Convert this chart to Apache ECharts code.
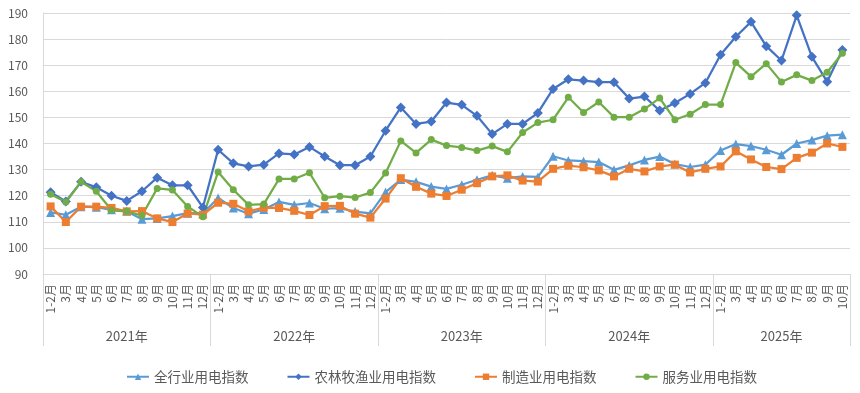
<!DOCTYPE html>
<html><head><meta charset="utf-8">
<script src="https://cdn.jsdelivr.net/npm/echarts@6/dist/echarts.min.js"></script>
<style>html,body{margin:0;padding:0;background:#fff}#c{width:860px;height:393px}</style>
</head><body><div id="c"></div>
<script>
const years = ['2021年','2022年','2023年','2024年','2025年'];
const monthsInYear = [11,11,11,11,9];
const monthLabels = ['1-2月','3月','4月','5月','6月','7月','8月','9月','10月','11月','12月'];
const seriesNames = ['全行业用电指数','农林牧渔业用电指数','制造业用电指数','服务业用电指数'];

const allIndustry = [
  113.6,112.7,115.8,115.6,114.6,114.0,111.0,111.3,112.2,113.3,113.3,
  119.1,115.3,113.1,114.7,117.6,116.5,117.2,115.0,115.2,113.9,113.2,
  121.4,126.2,125.3,123.5,122.6,124.2,126.1,127.8,126.7,127.4,127.2,
  135.1,133.5,133.2,132.9,129.9,131.6,133.7,135.0,132.1,131.0,131.9,
  137.3,139.8,139.0,137.6,135.7,140.0,141.3,143.0,143.4
];
const agriculture = [
  121.3,117.8,125.3,123.2,120.0,118.0,121.7,126.9,124.0,124.0,115.5,
  137.6,132.4,131.2,131.9,136.2,135.8,138.7,135.0,131.7,131.7,135.0,
  144.9,153.8,147.5,148.4,155.7,154.8,150.6,143.6,147.5,147.5,151.7,
  160.9,164.6,164.1,163.5,163.5,157.2,158.0,152.6,155.5,159.0,163.2,
  174.0,180.9,186.6,177.3,171.8,189.1,173.2,163.7,175.8
];
const manufacturing = [
  115.9,109.9,115.8,115.8,115.3,114.0,114.1,111.3,109.9,113.2,112.7,
  117.3,116.9,114.0,115.4,115.3,114.2,112.6,116.0,116.1,113.1,111.6,
  118.9,126.7,123.4,120.8,119.9,122.3,124.8,127.4,127.8,125.8,125.4,
  130.3,131.5,130.9,129.7,127.4,130.3,129.3,131.2,131.9,128.9,130.3,
  131.2,137.0,133.9,131.0,130.2,134.5,136.5,140.0,138.7
];
const services = [
  120.6,117.6,125.3,121.7,114.4,114.0,112.4,122.8,122.2,115.9,111.9,
  129.1,122.3,116.5,116.8,126.4,126.4,128.8,119.2,119.8,119.3,121.2,
  128.7,141.0,136.4,141.5,139.2,138.5,137.3,139.0,136.8,144.2,148.0,
  149.1,157.7,151.9,155.9,150.1,150.1,153.2,157.4,149.1,151.2,154.9,
  154.9,171.0,165.6,170.6,163.6,166.3,164.1,167.3,174.6
];

const categories = [], monthOf = [], yearOf = [], groupStart = {}, groupMid = {};
years.forEach((y, k) => {
  const start = categories.length;
  groupStart[start] = true;
  groupMid[start + Math.floor((monthsInYear[k] - 1) / 2)] = true;
  for (let m = 0; m < monthsInYear[k]; m++) {
    categories.push(y + monthLabels[m]);
    monthOf.push(monthLabels[m]);
    yearOf.push(y);
  }
});

const FONT = "'Noto Sans CJK SC', 'Noto Sans', sans-serif";
const GRID = '#d9d9d9';
const TXT = '#595959';

const chart = echarts.init(document.getElementById('c'), null, {renderer: 'canvas'});
const mk = (name, data, color, symbol, size) => ({
  name, type: 'line', data, symbol, symbolSize: size, showAllSymbol: true,
  lineStyle: {width: 2.25, color}, itemStyle: {color}, color,
  emphasis: {disabled: true}, animation: false
});

chart.setOption({
  animation: false,
  textStyle: {fontFamily: FONT},
  grid: {left: 43, right: 10, top: 13, bottom: 119, containLabel: false},
  xAxis: [{
    type: 'category', data: categories, boundaryGap: true, position: 'bottom',
    axisLine: {show: true, lineStyle: {color: GRID, width: 1}},
    axisTick: {show: false},
    axisLabel: {interval: 0, rotate: 90, margin: 10, fontSize: 12, color: TXT, fontFamily: FONT,
      formatter: (v, i) => monthOf[i]}
  }, {
    type: 'category', data: categories, boundaryGap: true, position: 'bottom', offset: 0,
    axisLine: {show: false},
    axisTick: {show: true, length: 72, inside: false, lineStyle: {color: GRID, width: 1},
      interval: (i) => !!groupStart[i]},
    axisLabel: {interval: (i) => !!groupMid[i], margin: 56, fontSize: 13, color: TXT, fontFamily: FONT,
      formatter: (v, i) => yearOf[i]},
    splitLine: {show: false}
  }],
  yAxis: {
    type: 'value', min: 90, max: 190, interval: 10,
    axisLine: {show: true, lineStyle: {color: GRID}},
    axisTick: {show: false},
    splitLine: {show: true, lineStyle: {color: GRID, width: 1}},
    axisLabel: {fontSize: 12, color: TXT, margin: 15, fontFamily: FONT}
  },
  legend: {
    data: seriesNames, left: 126, top: 370, padding: 0, itemWidth: 22, itemHeight: 8, itemGap: 38,
    textStyle: {fontSize: 13.5, color: TXT, fontFamily: FONT}
  },
  series: [
    mk(seriesNames[0], allIndustry, '#5B9BD5', 'triangle', 9),
    mk(seriesNames[1], agriculture, '#4472C4', 'diamond', 10),
    mk(seriesNames[2], manufacturing, '#ED7D31', 'rect', 8),
    mk(seriesNames[3], services, '#70AD47', 'circle', 7)
  ]
});
</script>
</body></html>
